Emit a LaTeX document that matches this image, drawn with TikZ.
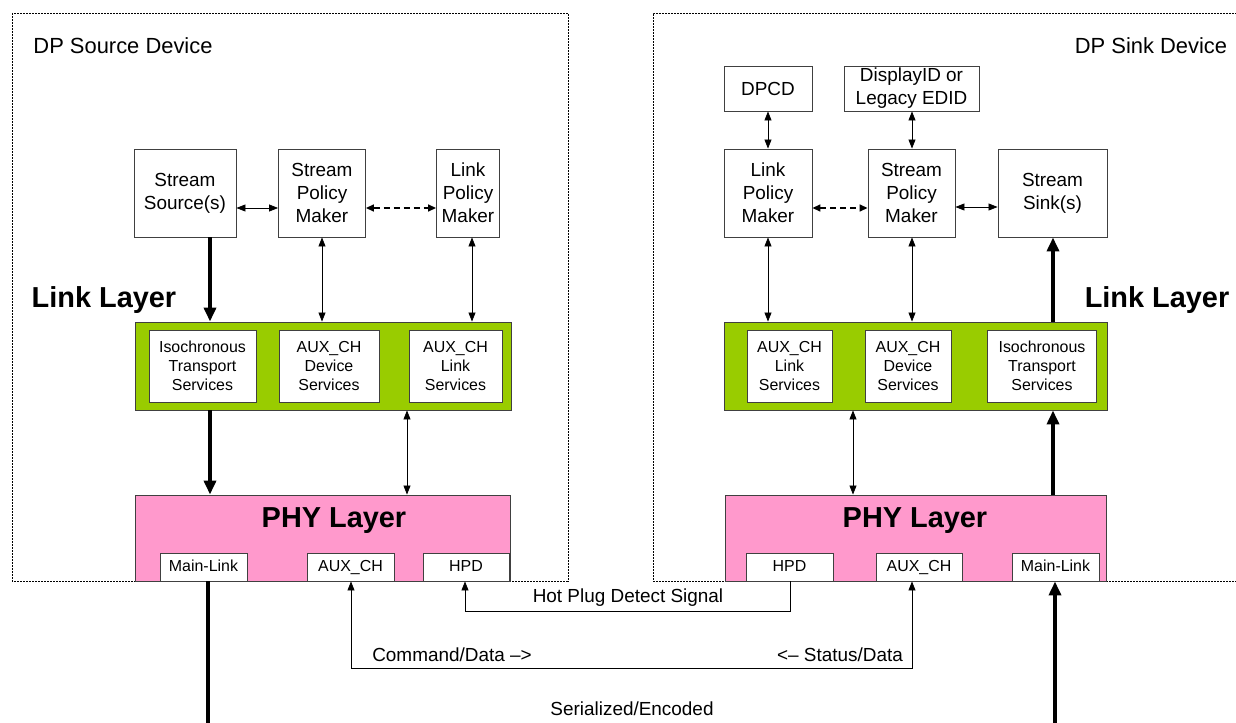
\documentclass[tikz,border=0pt]{standalone}
\usepackage{fontspec}
\setmainfont{Liberation Sans}
\usetikzlibrary{arrows.meta}
\definecolor{lgreen}{HTML}{99CC00}
\definecolor{lpink}{HTML}{FF99CC}
\definecolor{bord}{HTML}{404040}
\tikzset{
  box/.style={draw=bord, line width=0.9bp, fill=white, align=center, inner sep=0pt,
    font=\fontsize{19}{23}\selectfont},
  ibox/.style={draw=bord, line width=0.9bp, fill=white, align=center, inner sep=0pt,
    font=\fontsize{16}{19}\selectfont},
  pbox/.style={draw=bord, line width=0.9bp, fill=white, inner sep=0pt,
    font=\fontsize{16}{19}\selectfont, minimum height=28bp, text height=12bp, text depth=3.5bp},
  layer/.style={draw=bord, line width=0.9bp, inner sep=0pt},
  dev/.style={draw=black, line width=0.9bp, dash pattern=on 2bp off 1bp},
  thinarr/.style={draw=black, line width=0.8bp, {Triangle[length=9bp,width=7bp]}-{Triangle[length=9bp,width=7bp]}},
  onearr/.style={draw=black, line width=0.8bp, -{Triangle[length=9bp,width=7bp]}},
  dasharr/.style={draw=black, line width=1.6bp, dash pattern=on 6bp off 4bp, {Triangle[length=8bp,width=7bp]}-{Triangle[length=8bp,width=7bp]}},
  thickarr/.style={draw=black, line width=3.6bp, -{Triangle[length=14bp,width=12bp]}},
  thickline/.style={draw=black, line width=3.6bp},
  lbl/.style={inner sep=0pt, font=\fontsize{19}{23}\selectfont},
  devlbl/.style={inner sep=0pt, font=\fontsize{22}{26}\selectfont},
  biglbl/.style={inner sep=0pt, font=\fontsize{29}{34}\selectfont\bfseries},
}
\begin{document}
\begin{tikzpicture}[x=1bp,y=-1bp]
\useasboundingbox (0,0) rectangle (1236,723);
% device boxes
\draw[dev] (12,13) rectangle (568,581);
\draw[dev] (1240,13) -- (653,13) -- (653,581) -- (1240,581);
\node[devlbl] (srcdev) at (123,46) {DP Source Device};
\node[devlbl] (snkdev) at (1151,46) {DP Sink Device};

% ---------- source ----------
\node[box, minimum width=102bp, minimum height=88bp] (ssrc) at (185,193) {Stream\\Source(s)};
\node[box, minimum width=87bp, minimum height=88bp] (spm1) at (322,193) {Stream\\Policy\\Maker};
\node[box, minimum width=63bp, minimum height=88bp] (lpm1) at (468,193) {Link\\Policy\\Maker};

\node[layer, fill=lgreen, minimum width=376bp, minimum height=88bp] (green1) at (323,366) {};
\node[ibox, minimum width=107bp, minimum height=72bp] (iso1) at (202.5,366) {Isochronous\\Transport\\Services};
\node[ibox, minimum width=100bp, minimum height=72bp] (auxd1) at (329,366) {AUX\_CH\\Device\\Services};
\node[ibox, minimum width=93bp, minimum height=72bp] (auxl1) at (455.5,366) {AUX\_CH\\Link\\Services};

\node[layer, fill=lpink, minimum width=375bp, minimum height=86bp] (phy1) at (322.5,538) {};
\node[biglbl] (phy1t) at (334,521) {PHY Layer};
\node[pbox, minimum width=87bp] (ml1) at (203.5,567) {Main-Link};
\node[pbox, minimum width=87bp] (aux1) at (350.5,567) {AUX\_CH};
\node[pbox, minimum width=86bp] (hpd1) at (466,567) {HPD};

\node[biglbl] (ll1) at (104,300) {Link Layer};

\coordinate (xa) at (210,0);
\coordinate (xb) at (322,0);
\coordinate (xc) at (472,0);
\coordinate (xd) at (407,0);
\coordinate (xe) at (208,0);
\coordinate (xf) at (351,0);
\coordinate (xg) at (465,0);

\draw[thinarr] (ssrc.east |- 0,208) -- (spm1.west |- 0,208);
\draw[dasharr] (spm1.east |- 0,208) -- (lpm1.west |- 0,208);
\draw[thickarr] (xa |- ssrc.south) -- (xa |- green1.north);
\draw[thinarr] (xb |- spm1.south) -- (xb |- green1.north);
\draw[thinarr] (xc |- lpm1.south) -- (xc |- green1.north);
\draw[thickarr] (xa |- green1.south) -- (xa |- phy1.north);
\draw[thinarr] (xd |- green1.south) -- (xd |- phy1.north);
\coordinate (mlend1) at (208,725);
\draw[thickline] (xe |- ml1.south) -- (mlend1);

% ---------- sink ----------
\node[box, minimum width=88bp, minimum height=45bp] (dpcd) at (768,88.5) {DPCD};
\node[box, minimum width=135bp, minimum height=45bp] (edid) at (911.5,88.5) {DisplayID or\\Legacy EDID};
\node[box, minimum width=88bp, minimum height=88bp] (lpm2) at (768,193) {Link\\Policy\\Maker};
\node[box, minimum width=87bp, minimum height=88bp] (spm2) at (911.5,193) {Stream\\Policy\\Maker};
\node[box, minimum width=109bp, minimum height=88bp] (ssink) at (1052.5,193) {Stream\\Sink(s)};

\node[layer, fill=lgreen, minimum width=383bp, minimum height=88bp] (green2) at (915.5,366) {};
\node[ibox, minimum width=85bp, minimum height=72bp] (auxl2) at (789.5,366) {AUX\_CH\\Link\\Services};
\node[ibox, minimum width=86bp, minimum height=72bp] (auxd2) at (908,366) {AUX\_CH\\Device\\Services};
\node[ibox, minimum width=109bp, minimum height=72bp] (iso2) at (1042,366) {Isochronous\\Transport\\Services};

\node[layer, fill=lpink, minimum width=381bp, minimum height=86bp] (phy2) at (915.5,538) {};
\node[biglbl] (phy2t) at (915,521) {PHY Layer};
\node[pbox, minimum width=87bp] (hpd2) at (789.5,567) {HPD};
\node[pbox, minimum width=86bp] (aux2) at (919,567) {AUX\_CH};
\node[pbox, minimum width=87bp] (ml2) at (1055.5,567) {Main-Link};

\node[biglbl] (ll2) at (1157,300) {Link Layer};

\coordinate (ya) at (768,0);
\coordinate (yb) at (912,0);
\coordinate (yc) at (1053,0);
\coordinate (yd) at (853,0);
\coordinate (ye) at (790,0);
\coordinate (yf) at (912,0);
\coordinate (yg) at (1055,0);

\draw[thinarr] (ya |- dpcd.south) -- (ya |- lpm2.north);
\draw[thinarr] (yb |- edid.south) -- (yb |- spm2.north);
\draw[dasharr] (lpm2.east |- 0,208) -- (spm2.west |- 0,208);
\draw[thinarr] (spm2.east |- 0,207) -- (ssink.west |- 0,207);
\draw[thinarr] (ya |- lpm2.south) -- (ya |- green2.north);
\draw[thinarr] (yb |- spm2.south) -- (yb |- green2.north);
\draw[thickarr] (yc |- green2.north) -- (yc |- ssink.south);
\draw[thinarr] (yd |- green2.south) -- (yd |- phy2.north);
\draw[thickarr] (yc |- phy2.north) -- (yc |- green2.south);
\coordinate (mlend2) at (1055,725);
\draw[thickarr] (mlend2) -- (yg |- ml2.south);

% ---------- links between ----------
\draw[onearr] (ye |- hpd2.south) -- (790,611) -- (465,611) -- (xg |- hpd1.south);
\node[lbl] (hpdt) at (628,598) {Hot Plug Detect Signal};
\draw[thinarr] (xf |- aux1.south) -- (351,668) -- (912,668) -- (yf |- aux2.south);
\node[lbl] (cmdt) at (452,655) {Command/Data –>};
\node[lbl] (stat) at (840,655) {<– Status/Data};
\node[lbl] (sert) at (632,709) {Serialized/Encoded};
\end{tikzpicture}
\end{document}
